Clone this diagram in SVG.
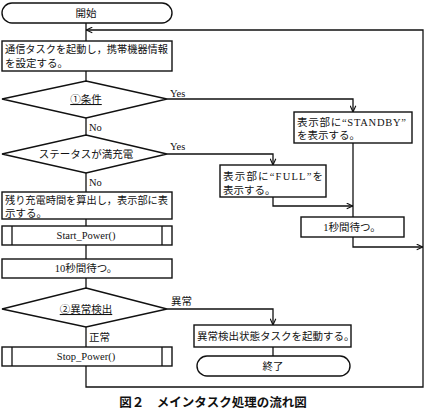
<svg xmlns="http://www.w3.org/2000/svg" width="426" height="411" viewBox="0 0 426 411">
<style>
.s{fill:#fff;stroke:#111;stroke-width:1.4}
.c{fill:none;stroke:#111;stroke-width:1.3}
text{font-family:"Liberation Serif","Noto Sans CJK JP",serif;font-size:10.5px;fill:#111}
.m{text-anchor:middle}
.cap{font-family:"Noto Sans CJK JP",sans-serif;font-size:12.5px;font-weight:bold;text-anchor:middle}
</style>
<defs>
<marker id="a" viewBox="0 0 10 10" refX="10" refY="5" markerWidth="7" markerHeight="7" orient="auto" markerUnits="userSpaceOnUse">
<path d="M1,1 L10,5 L1,9" fill="none" stroke="#111" stroke-width="1.6"/>
</marker>
</defs>
<rect width="426" height="411" fill="#fff"/>
<g id="connectors">
<path class="c" d="M86,23 V41 M86,71 V81 M86,118 V135 M86,173 V192 M86,219 V226 M86,245 V259 M86,278 V288 M86,327 V347"/>
<path class="c" d="M86,366 V387 H423 V30 H86" marker-end="url(#a)"/>
<path class="c" d="M167,99 H353 V112" marker-end="url(#a)"/>
<path class="c" d="M167,154 H273 V165" marker-end="url(#a)"/>
<path class="c" d="M273,197 V206 H353" marker-end="url(#a)"/>
<path class="c" d="M353,143 V217"/>
<path class="c" d="M353,237 V247 H423" marker-end="url(#a)"/>
<path class="c" d="M167,309 H273 V325" marker-end="url(#a)"/>
<path class="c" d="M273,347 V356"/>
<text x="170" y="97">Yes</text>
<text x="89" y="131">No</text>
<text x="170" y="150">Yes</text>
<text x="89" y="186">No</text>
<text x="171" y="305">異常</text>
<text x="89" y="341">正常</text>
</g>
<g id="start">
<rect class="s" x="2" y="3" width="170" height="20" rx="10"/>
<text class="m" x="86" y="17">開始</text>
</g>
<g id="init">
<rect class="s" x="2" y="41" width="170" height="30"/>
<text x="5" y="53" textLength="163" lengthAdjust="spacingAndGlyphs">通信タスクを起動し，携帯機器情報</text>
<text x="5" y="67">を設定する。</text>
</g>
<g id="cond1">
<polygon class="s" points="86,81 167,99 86,118 2,99"/>
<text class="m" x="86" y="103" text-decoration="underline">①条件</text>
</g>
<g id="standby">
<rect class="s" x="294" y="112" width="118" height="31"/>
<text x="297" y="126" textLength="109">表示部に“STANDBY”</text>
<text x="297" y="139">を表示する。</text>
</g>
<g id="cond2">
<polygon class="s" points="86,135 167,154 86,173 2,154"/>
<text class="m" x="86" y="158">ステータスが満充電</text>
</g>
<g id="full">
<rect class="s" x="220" y="165" width="106" height="32"/>
<text x="223" y="180" textLength="100">表示部に“FULL”を</text>
<text x="223" y="194">表示する。</text>
</g>
<g id="wait1">
<rect class="s" x="301" y="217" width="103" height="20"/>
<text class="m" x="352" y="231">1秒間待つ。</text>
</g>
<g id="remain">
<rect class="s" x="2" y="192" width="170" height="27"/>
<text x="5" y="204" textLength="163" lengthAdjust="spacingAndGlyphs">残り充電時間を算出し，表示部に表</text>
<text x="5" y="217">示する。</text>
</g>
<g id="startpower">
<rect class="s" x="2" y="226" width="170" height="19"/>
<path class="c" d="M12,226 V245 M162,226 V245"/>
<text class="m" x="86" y="239">Start_Power()</text>
</g>
<g id="wait10">
<rect class="s" x="2" y="259" width="170" height="19"/>
<text class="m" x="86" y="272">10秒間待つ。</text>
</g>
<g id="cond3">
<polygon class="s" points="86,288 167,309 86,327 2,309"/>
<text class="m" x="86" y="313" text-decoration="underline">②異常検出</text>
</g>
<g id="errtask">
<rect class="s" x="194" y="325" width="157" height="22"/>
<text x="197" y="340">異常検出状態タスクを起動する。</text>
</g>
<g id="end">
<rect class="s" x="197" y="356" width="153" height="20" rx="10"/>
<text class="m" x="273" y="370">終了</text>
</g>
<g id="stoppower">
<rect class="s" x="2" y="347" width="170" height="19"/>
<path class="c" d="M12,347 V366 M162,347 V366"/>
<text class="m" x="86" y="360">Stop_Power()</text>
</g>
<text class="cap" x="213" y="407">図２　メインタスク処理の流れ図</text>
</svg>
